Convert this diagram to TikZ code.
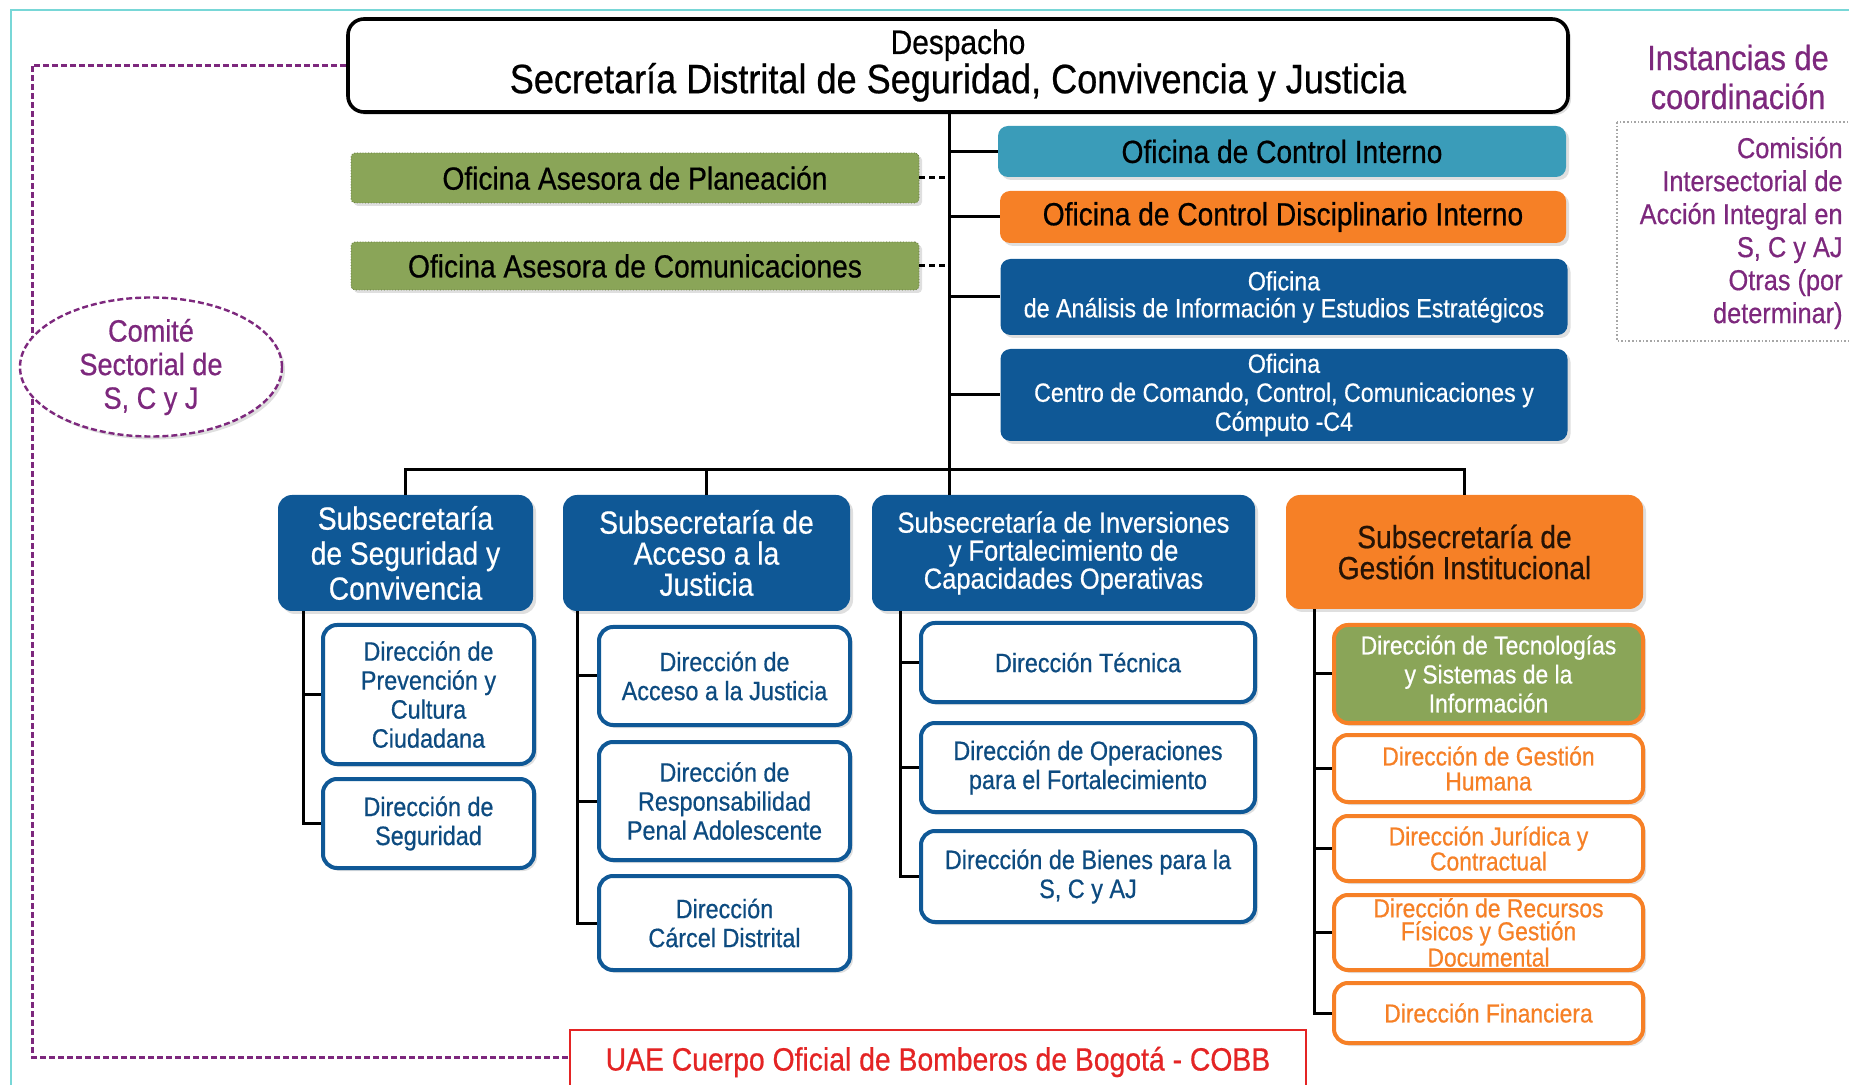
\documentclass[tikz,border=0pt]{standalone}
\usepackage{fontspec}
\setmainfont[FakeStretch=0.88,FakeBold=0.6]{Liberation Sans}
\usepackage{tikz}
\usetikzlibrary{calc,shapes.geometric,shadows}
\tikzset{>=stealth}
\definecolor{sdblue}{RGB}{15,88,150}
\definecolor{sdteal}{RGB}{58,156,185}
\definecolor{sdorange}{RGB}{246,128,38}
\definecolor{sdgreen}{RGB}{138,165,88}
\definecolor{sdpurple}{RGB}{125,40,125}
\definecolor{sdred}{RGB}{228,36,36}
\definecolor{sdframe}{RGB}{120,215,215}
\newcommand{\fsz}[2]{\fontsize{#1}{#2}\selectfont}
\tikzset{
  shade/.style={drop shadow={opacity=0.25,shadow xshift=1.5pt,shadow yshift=-1.5pt}},
  ofi/.style={rectangle,rounded corners=5pt,align=center,inner sep=1pt,shade},
  asesora/.style={ofi,rounded corners=2pt,fill=sdgreen,draw=sdgreen!70!black,densely dotted,font=\fsz{16}{18}},
  subsec/.style={rectangle,rounded corners=7pt,align=center,inner sep=1pt,fill=sdblue,text=white,shade},
  direc/.style={rectangle,rounded corners=7pt,align=center,inner sep=1pt,fill=white,draw=sdblue,line width=2pt,text=sdblue!85!black,font=\fsz{13.3}{14.5},shade},
  direcg/.style={direc,draw=sdorange,text=sdorange,font=\fsz{13}{12.5}},
  conn/.style={line width=1.5pt,black},
  dconn/.style={line width=1.5pt,black,dash pattern=on 3pt off 2pt},
  coord/.style={line width=1.5pt,sdpurple,dash pattern=on 3pt off 1.5pt}
}
\begin{document}
\begin{tikzpicture}[x=0.5pt,y=-0.5pt]
  \useasboundingbox (0,0) rectangle (1849,1085);
  \draw[sdframe,line width=1pt] (11,1100) |- (1870,10);

  \node[rectangle,rounded corners=8pt,draw=black,line width=1.8pt,fill=white,minimum width=610pt,minimum height=46.5pt,align=center,shade] (desp) at (958,65.5)
    {\fsz{17}{16}Despacho\\\fsz{20.5}{18}Secretaría Distrital de Seguridad, Convivencia y Justicia};

  \node[asesora,minimum width=284pt,minimum height=25pt] (plan) at (635,178) {Oficina Asesora de Planeación};
  \node[asesora,minimum width=284pt,minimum height=24pt] (com) at (635,266) {Oficina Asesora de Comunicaciones};

  \node[ofi,fill=sdteal,minimum width=284pt,minimum height=25.5pt,font=\fsz{16}{18}] (ci) at (1282,151.5) {Oficina de Control Interno};
  \node[ofi,fill=sdorange,minimum width=283pt,minimum height=26pt,font=\fsz{16}{18}] (cdi) at (1283,217) {Oficina de Control Disciplinario Interno};
  \node[ofi,fill=sdblue,text=white,minimum width=283.5pt,minimum height=38pt,font=\fsz{13.2}{13.5}] (ana) at (1284,297)
    {Oficina\\de Análisis de Información y Estudios Estratégicos};
  \node[ofi,fill=sdblue,text=white,minimum width=283.5pt,minimum height=46pt,font=\fsz{13.2}{14.5}] (c4) at (1284,395)
    {Oficina\\Centro de Comando, Control, Comunicaciones y\\Cómputo -C4};

  \node[subsec,minimum width=127.5pt,minimum height=58pt,font=\fsz{16}{17.5}] (seg) at (405.5,553) {Subsecretaría\\de Seguridad y\\Convivencia};
  \node[subsec,minimum width=143.5pt,minimum height=58pt,font=\fsz{16}{15.5}] (acc) at (706.5,553) {Subsecretaría de\\Acceso a la\\Justicia};
  \node[subsec,minimum width=191.5pt,minimum height=58pt,font=\fsz{14.5}{14}] (inv) at (1063.5,553) {Subsecretaría de Inversiones\\y Fortalecimiento de\\Capacidades Operativas};
  \node[subsec,fill=sdorange,text=black!85!sdorange,minimum width=178.5pt,minimum height=57pt,font=\fsz{16}{15.5}] (ges) at (1464.5,552) {Subsecretaría de\\Gestión Institucional};

  \node[direc,minimum width=105.5pt,minimum height=69.5pt] (dpc) at (428.5,694.5) {Dirección de\\Prevención y\\Cultura\\Ciudadana};
  \node[direc,minimum width=105.5pt,minimum height=44.5pt] (dse) at (428.5,823.5) {Dirección de\\Seguridad};

  \node[direc,minimum width=125.5pt,minimum height=49pt] (daj) at (724.5,676) {Dirección de\\Acceso a la Justicia};
  \node[direc,minimum width=125.5pt,minimum height=59pt] (drp) at (724.5,801) {Dirección de\\Responsabilidad\\Penal Adolescente};
  \node[direc,minimum width=125.5pt,minimum height=47pt] (dcd) at (724.5,923) {Dirección\\Cárcel Distrital};

  \node[direc,minimum width=167pt,minimum height=39.5pt] (dte) at (1088,662.5) {Dirección Técnica};
  \node[direc,minimum width=167pt,minimum height=44.5pt] (dop) at (1088,767.5) {Dirección de Operaciones\\para el Fortalecimiento};
  \node[direc,minimum width=167pt,minimum height=45.5pt] (dbi) at (1088,876.5) {Dirección de Bienes para la\\S, C y AJ};

  \node[direcg,fill=sdgreen,text=white,minimum width=154.5pt,minimum height=49pt,font=\fsz{13}{14.5}] (dts) at (1488.5,674) {Dirección de Tecnologías\\y Sistemas de la\\Información};
  \node[direcg,minimum width=154.5pt,minimum height=33.5pt] (dgh) at (1488.5,768.5) {Dirección de Gestión\\Humana};
  \node[direcg,minimum width=154.5pt,minimum height=32.5pt] (djc) at (1488.5,848.5) {Dirección Jurídica y\\Contractual};
  \node[direcg,minimum width=154.5pt,minimum height=37.5pt,font=\fsz{13}{11.5}] (drf) at (1488.5,932.5) {Dirección de Recursos\\Físicos y Gestión\\Documental};
  \node[direcg,minimum width=154.5pt,minimum height=30pt] (dfi) at (1488.5,1013) {Dirección Financiera};

  \node[rectangle,draw=sdred,line width=1.2pt,fill=white,text=sdred,minimum width=368pt,minimum height=32pt,font=\fsz{16.1}{18}] (uae) at (938,1062) {UAE Cuerpo Oficial de Bomberos de Bogotá - COBB};

  \coordinate (trk) at (949,112);
  \coordinate (pl) at (32,1057);
  \draw[coord] (desp.west) -| (pl) -- (uae.west |- pl);

  \node[ellipse,draw=sdpurple,line width=1.2pt,dash pattern=on 3pt off 1.5pt,fill=white,minimum width=131pt,minimum height=69.5pt,inner sep=0pt,align=center,text=sdpurple,font=\fsz{15.4}{16.8},shade] (comite) at (151,367)
    {Comité\\Sectorial de\\S, C y J};

  \node[align=center,text=sdpurple,font=\fsz{17.5}{19.5}] (inst) at (1738,77) {Instancias de\\coordinación};
  \draw[gray!70,densely dotted,line width=0.8pt] (1617,122) rectangle (1870,341);
  \node[anchor=east,align=right,text=sdpurple,font=\fsz{14.4}{16.5},inner sep=0pt] (coms) at (1843,233)
    {Comisión\\Intersectorial de\\Acción Integral en\\S, C y AJ\\Otras (por\\determinar)};

  \draw[conn] (trk) -- (trk |- inv.north);
  \foreach \n in {ci,cdi,ana,c4} \draw[conn] (trk |- \n.west) -- (\n.west);
  \foreach \n in {plan,com} \draw[dconn] (\n.east) -- (\n.east -| trk);
  \draw[conn] (seg.north) -- ++(0,-25) -| (ges.north);
  \draw[conn] (acc.north) -- ++(0,-25);

  \foreach \n in {dpc,dse} \draw[conn] ($(seg.south west)+(26,0)$) |- (\n.west);
  \foreach \n in {daj,drp,dcd} \draw[conn] ($(acc.south west)+(15,0)$) |- (\n.west);
  \foreach \n in {dte,dop,dbi} \draw[conn] ($(inv.south west)+(29,0)$) |- (\n.west);
  \foreach \n in {dts,dgh,djc,drf,dfi} \draw[conn] ($(ges.south west)+(29,0)$) |- (\n.west);
\end{tikzpicture}
\end{document}
